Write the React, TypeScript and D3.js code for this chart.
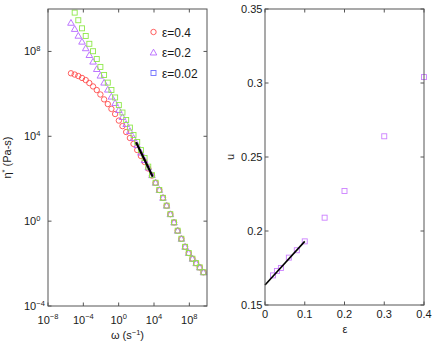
import React from "react";
import * as d3 from "d3";

// log10(omega) grid shared by the three series
const logOmega = [-5.40,-4.98,-4.57,-4.15,-3.73,-3.32,-2.90,-2.48,-2.07,-1.65,-1.23,-0.82,-0.40,0.02,0.43,0.85,1.27,1.68,2.10,2.52,2.93,3.35,3.77,4.18,4.60,5.02,5.43,5.85,6.27,6.68,7.10,7.52,7.93,8.35,8.77,9.18,9.60];

// log10(eta*) for each epsilon (null = no point)
const logEta04 = [6.97,6.91,6.84,6.75,6.65,6.51,6.35,6.18,5.97,5.74,5.52,5.29,5.05,4.74,4.48,4.20,3.92,3.64,3.35,3.07,2.79,2.48,2.15,1.81,1.47,1.10,0.73,0.33,-0.06,-0.45,-0.83,-1.21,-1.50,-1.77,-1.98,-2.18,-2.41];
const logEta02 = [9.35,9.06,8.74,8.46,8.15,7.83,7.52,7.17,6.86,6.53,6.20,5.87,5.57,5.24,4.91,4.58,4.25,3.92,3.59,3.23,2.88,2.53,2.17,1.81,1.47,1.10,0.73,0.33,-0.06,-0.45,-0.83,-1.21,-1.50,-1.77,-1.98,-2.18,-2.41];
const logEta002 = [null,9.83,9.47,9.09,8.73,8.36,8.01,7.64,7.27,6.89,6.53,6.18,5.83,5.47,5.12,4.77,4.41,4.06,3.73,3.35,2.98,2.57,2.17,1.81,1.47,1.10,0.73,0.33,-0.06,-0.45,-0.83,-1.21,-1.50,-1.77,-1.98,-2.18,-2.41];

// power-law fit line (log10 values)
const fitLogOmega = [1.97, 3.86];
const fitLogEta = [3.72, 2.09];

const legendLabels = ["\u03b5=0.4", "\u03b5=0.2", "\u03b5=0.02"];

const xTickExp = [-8, -4, 0, 4, 8];
const yTickExp = [-4, 0, 4, 8];

// right panel
const epsValues = [0.02, 0.03, 0.04, 0.06, 0.08, 0.1, 0.15, 0.2, 0.3, 0.4];
const uValues = [0.170, 0.173, 0.175, 0.182, 0.187, 0.193, 0.209, 0.227, 0.264, 0.304];
const uFitEps = [0, 0.1];
const uFitU = [0.1635, 0.193];
const epsTicks = [0, 0.1, 0.2, 0.3, 0.4];
const uTicks = [0.15, 0.2, 0.25, 0.3, 0.35];

const FONT = "'Liberation Sans', Arial, Helvetica, sans-serif";
const AX = "#555";
const TXT = "#1a1a1a";
const RED = "#ff4d4d";
const PURPLE = "#b566ff";
const GREEN = "#8fe84a";
const BLUE = "#6f6fff";
const VIOLET = "#cc80ff";

function Circle({ x, y, c }: any) {
  return <circle cx={x} cy={y} r={2.7} fill="none" stroke={c} strokeWidth={0.9} />;
}
function Tri({ x, y, c }: any) {
  const s = 3.3;
  return (
    <path
      d={`M${x},${y - s}L${x + s},${y + s * 0.75}L${x - s},${y + s * 0.75}Z`}
      fill="none"
      stroke={c}
      strokeWidth={0.9}
    />
  );
}
function Sq({ x, y, c }: any) {
  const s = 2.5;
  return <rect x={x - s} y={y - s} width={2 * s} height={2 * s} fill="none" stroke={c} strokeWidth={0.9} />;
}

export default function App() {
  // left panel
  const L = { x0: 48, x1: 207, y0: 9, y1: 306 };
  const xs = d3.scaleLog().domain([1e-8, 1e10]).range([L.x0, L.x1]);
  const ys = d3.scaleLog().domain([1e-4, 1e10]).range([L.y1, L.y0]);
  const px = (lw: number) => xs(Math.pow(10, lw));
  const py = (le: number) => ys(Math.pow(10, le));

  const fitLine = d3
    .line<number>()
    .x((_, i) => px(fitLogOmega[i]))
    .y((_, i) => py(fitLogEta[i]))(fitLogOmega);

  // right panel
  const R = { x0: 265, x1: 424, y0: 9, y1: 305 };
  const xr = d3.scaleLinear().domain([0, 0.4]).range([R.x0, R.x1]);
  const yr = d3.scaleLinear().domain([0.15, 0.35]).range([R.y1, R.y0]);
  const uLine = d3
    .line<number>()
    .x((_, i) => xr(uFitEps[i]))
    .y((_, i) => yr(uFitU[i]))(uFitEps);

  const tk = 3.5;
  const fs = 11;

  return (
    <svg width={436} height={344} style={{ position: "absolute", left: 0, top: 0, background: "#fff" }} fontFamily={FONT}>
      <rect x={0} y={0} width={436} height={344} fill="#fff" />
      {/* LEFT PANEL */}
      <g>
        {xTickExp.map((e) => {
          const x = xs(Math.pow(10, e));
          return (
            <g key={"xt" + e}>
              <line x1={x} x2={x} y1={L.y1} y2={L.y1 - tk} stroke={AX} />
              <line x1={x} x2={x} y1={L.y0} y2={L.y0 + tk} stroke={AX} />
              <text x={x} y={323.5} fontSize={fs} textAnchor="middle" fill={TXT}>
                10
                <tspan dy={-4.5} fontSize={7.5}>{e < 0 ? "\u2212" + Math.abs(e) : String(e)}</tspan>
              </text>
            </g>
          );
        })}
        {yTickExp.map((e) => {
          const y = ys(Math.pow(10, e));
          return (
            <g key={"yt" + e}>
              <line x1={L.x0} x2={L.x0 + tk} y1={y} y2={y} stroke={AX} />
              <line x1={L.x1} x2={L.x1 - tk} y1={y} y2={y} stroke={AX} />
              <text x={24} y={y + 4} fontSize={fs} fill={TXT}>
                10
                <tspan dy={-4.5} fontSize={7.5}>{e < 0 ? "\u2212" + Math.abs(e) : String(e)}</tspan>
              </text>
            </g>
          );
        })}
        {logEta04.map((v, i) => (v == null ? null : <Circle key={"r" + i} x={px(logOmega[i])} y={py(v)} c={RED} />))}
        {logEta02.map((v, i) => (v == null ? null : <Tri key={"t" + i} x={px(logOmega[i])} y={py(v)} c={PURPLE} />))}
        {logEta002.map((v, i) => (v == null ? null : <Sq key={"s" + i} x={px(logOmega[i])} y={py(v)} c={GREEN} />))}
        <path d={fitLine || ""} stroke="#000" strokeWidth={2.2} fill="none" />
        <rect x={L.x0} y={L.y0} width={L.x1 - L.x0} height={L.y1 - L.y0} fill="none" stroke={AX} strokeWidth={1} />
        {/* legend */}
        <Circle x={153.5} y={32} c={RED} />
        <Tri x={153.5} y={52.5} c={PURPLE} />
        <Sq x={153.5} y={73} c={BLUE} />
        {legendLabels.map((t, i) => (
          <text key={t} x={162} y={36.5 + i * 20.5} fontSize={12} fill={TXT}>
            {t}
          </text>
        ))}
        {/* axis labels */}
        <text x={127.5} y={339} fontSize={fs} textAnchor="middle" fill={TXT}>
          {"\u03c9 (s"}
          <tspan dy={-4} fontSize={7.5}>{"\u22121"}</tspan>
          <tspan dy={4}>{")"}</tspan>
        </text>
        <text transform={`translate(11,157.5) rotate(-90)`} fontSize={fs} textAnchor="middle" fill={TXT}>
          {"\u03b7"}
          <tspan dy={-4.5} fontSize={7.5}>*</tspan>
          <tspan dy={4.5}>{" (Pa-s)"}</tspan>
        </text>
      </g>

      {/* RIGHT PANEL */}
      <g>
        {epsTicks.map((t) => {
          const x = xr(t);
          return (
            <g key={"et" + t}>
              <line x1={x} x2={x} y1={R.y1} y2={R.y1 - tk} stroke={AX} />
              <line x1={x} x2={x} y1={R.y0} y2={R.y0 + tk} stroke={AX} />
              <text x={x} y={317.5} fontSize={fs} textAnchor="middle" fill={TXT}>
                {String(t)}
              </text>
            </g>
          );
        })}
        {uTicks.map((t) => {
          const y = yr(t);
          return (
            <g key={"ut" + t}>
              <line x1={R.x0} x2={R.x0 + tk} y1={y} y2={y} stroke={AX} />
              <line x1={R.x1} x2={R.x1 - tk} y1={y} y2={y} stroke={AX} />
              <text x={262.5} y={y + 4} fontSize={fs} textAnchor="end" fill={TXT}>
                {String(t)}
              </text>
            </g>
          );
        })}
        {epsValues.map((e, i) => (
          <Sq key={"u" + i} x={xr(e)} y={yr(uValues[i])} c={VIOLET} />
        ))}
        <path d={uLine || ""} stroke="#000" strokeWidth={1.6} fill="none" />
        <rect x={R.x0} y={R.y0} width={R.x1 - R.x0} height={R.y1 - R.y0} fill="none" stroke={AX} strokeWidth={1} />
        <text x={345} y={333} fontSize={fs} textAnchor="middle" fill={TXT}>
          {"\u03b5"}
        </text>
        <text transform={`translate(233.5,157) rotate(-90)`} fontSize={fs} textAnchor="middle" fill={TXT}>
          u
        </text>
      </g>
    </svg>
  );
}
